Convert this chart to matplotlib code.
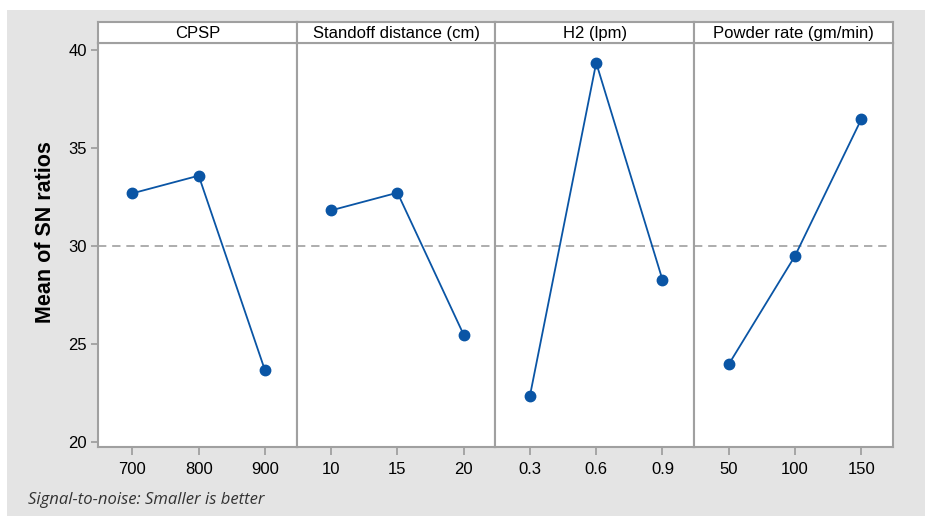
import matplotlib
matplotlib.use("Agg")
import matplotlib.pyplot as plt
from matplotlib.patches import Rectangle

plt.rcParams["font.family"] = ["Liberation Sans", "DejaVu Sans"]

factors = ["CPSP", "Standoff distance (cm)", "H2 (lpm)", "Powder rate (gm/min)"]
levels = [
    ["700", "800", "900"],
    ["10", "15", "20"],
    ["0.3", "0.6", "0.9"],
    ["50", "100", "150"],
]
sn_means = [
    [32.69, 33.59, 23.66],
    [31.82, 32.72, 25.47],
    [22.36, 39.35, 28.28],
    [23.96, 29.49, 36.46],
]
grand_mean = 30.0
y_ticks = [20, 25, 30, 35, 40]

W, H = 925, 516
fig = plt.figure(figsize=(W / 100, H / 100), dpi=100, facecolor="white")

# gray backdrop like Minitab graph region
fig.patches.append(Rectangle((7 / W, 0), 1, 1 - 10 / H, transform=fig.transFigure,
                             facecolor="#e4e4e4", edgecolor="none", zorder=-10))

frame_col = "#a0a0a0"
line_col = "#0a55a5"

x0, x1 = 98 / W, 893 / W
pw = (x1 - x0) / 4
bot = 1 - 446.7 / H
top = 1 - 43 / H
htop = 1 - 22 / H

axes = []
for i, (name, labs, vals) in enumerate(zip(factors, levels, sn_means)):
    ax = fig.add_axes([x0 + i * pw, bot, pw, top - bot])
    axes.append(ax)
    xs = range(len(labs))
    ax.axhline(grand_mean, color=frame_col, ls=(0, (5, 3.5)), lw=1.2, zorder=1)
    ax.plot(xs, vals, color=line_col, lw=1.3, marker="o", ms=7.5, zorder=3)
    ax.set_xlim(-0.52, 2.48)
    ax.set_ylim(19.76, 40.36)
    ax.set_xticks(list(xs))
    ax.set_xticklabels(labs)
    ax.set_yticks(y_ticks)
    for sp in ax.spines.values():
        sp.set_color(frame_col)
        sp.set_linewidth(1.5)
    ax.tick_params(axis="x", colors=frame_col, labelcolor="black", length=6, width=1.3,
                   labelsize=12, pad=5)
    ax.tick_params(axis="y", colors=frame_col, labelcolor="black", length=5, width=1.3,
                   labelsize=12, pad=3)
    if i > 0:
        ax.tick_params(axis="y", left=False, labelleft=False)

    # header strip
    hx = fig.add_axes([x0 + i * pw, top, pw, htop - top])
    hx.set_xticks([])
    hx.set_yticks([])
    for sp in hx.spines.values():
        sp.set_color(frame_col)
        sp.set_linewidth(1.5)
    hx.text(0.5, 0.45, name, ha="center", va="center", fontsize=12)

fig.text(46 / W, 1 - 232 / H, "Mean of SN ratios", rotation=90, ha="center",
         va="center", fontsize=15.5, fontweight="bold")
fig.text(28 / W, 1 - 500 / H, "Signal-to-noise: Smaller is better", ha="left",
         va="center", fontsize=12, style="italic", color="#333333",
         family=["Open Sans", "DejaVu Sans"])

fig.savefig("out.png", dpi=100, facecolor=fig.get_facecolor())
